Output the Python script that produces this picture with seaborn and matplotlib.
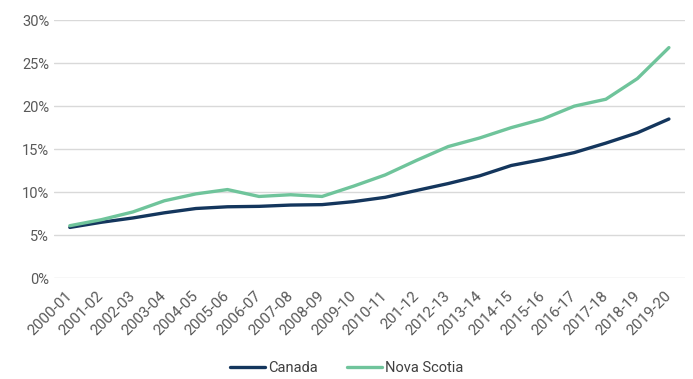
import matplotlib
matplotlib.use("Agg")
import matplotlib.pyplot as plt
import pandas as pd
import seaborn as sns
from matplotlib.ticker import FuncFormatter

# ---- data ----
years = ["2000-01", "2001-02", "2002-03", "2003-04", "2004-05", "2005-06",
         "2006-07", "2007-08", "2008-09", "2009-10", "2010-11", "201-12",
         "2012-13", "2013-14", "2014-15", "2015-16", "2016-17", "2017-18",
         "2018-19", "2019-20"]
canada = [5.9, 6.5, 7.0, 7.6, 8.1, 8.3, 8.35, 8.5, 8.55, 8.9,
          9.4, 10.2, 11.0, 11.9, 13.1, 13.8, 14.6, 15.7, 16.9, 18.5]
nova_scotia = [6.1, 6.8, 7.7, 9.0, 9.8, 10.3, 9.5, 9.7, 9.5, 10.7,
               12.0, 13.7, 15.3, 16.3, 17.5, 18.5, 20.0, 20.8, 23.2, 26.8]
series_names = ["Canada", "Nova Scotia"]
colors = ["#14365d", "#6fc49b"]

df = pd.DataFrame({
    "year": years * 2,
    "share": canada + nova_scotia,
    "region": [series_names[0]] * len(years) + [series_names[1]] * len(years),
})

sns.set_style("white")
plt.rcParams["font.family"] = ["Roboto", "DejaVu Sans"]

fig = plt.figure(figsize=(6.93, 3.79), dpi=100)
ax = fig.add_axes([0.078, 0.266, 0.910, 0.681])

sns.lineplot(data=df, x="year", y="share", hue="region", palette=colors,
             hue_order=series_names, sort=False, linewidth=2.4, ax=ax)

ax.set_ylim(0, 30)
ax.set_yticks(range(0, 31, 5))
ax.yaxis.set_major_formatter(FuncFormatter(lambda v, _: f"{int(v)}%"))
ax.set_xlim(-0.5, len(years) - 0.5)
ax.set_xlabel(""); ax.set_ylabel("")
ax.grid(axis="y", color="#d9d9d9", linewidth=1)
ax.set_axisbelow(True)
for s in ax.spines.values():
    s.set_visible(False)
ax.tick_params(axis="both", length=0, labelsize=10.5, colors="#595959")
ax.tick_params(axis="x", pad=11, labelsize=11)
plt.setp(ax.get_xticklabels(), rotation=45, ha="right", va="center",
         rotation_mode="anchor")

handles, labels = ax.get_legend_handles_labels()
ax.legend_.remove()
fig.legend(handles, labels, loc="lower center", bbox_to_anchor=(0.5, -0.025),
           ncol=2, frameon=False, fontsize=10.5, handlelength=2.4,
           handletextpad=0.2, columnspacing=2.0, labelcolor="#404040")

fig.savefig("out.png", dpi=100)
